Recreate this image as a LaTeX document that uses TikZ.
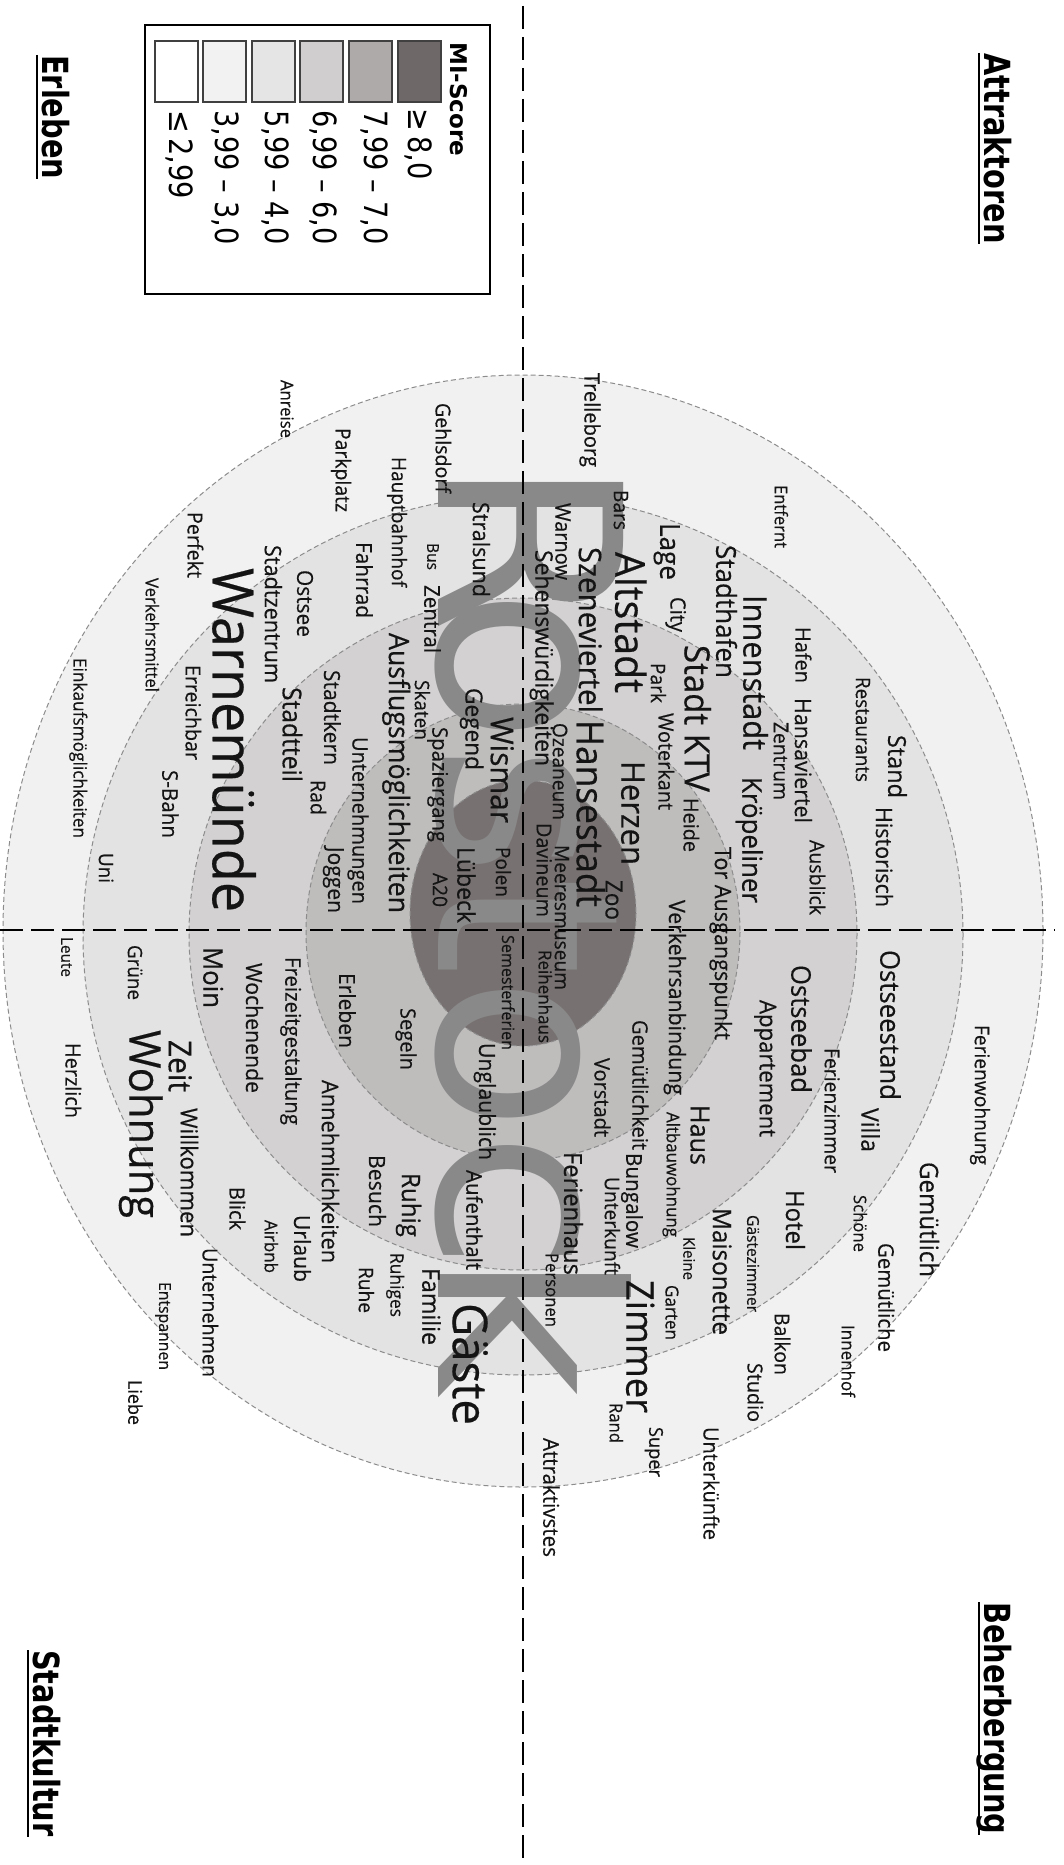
\documentclass[tikz,border=0pt]{standalone}
\usepackage{fontspec}
\usepackage{graphicx}
\newfontfamily\wordfont[FakeStretch=0.95,FakeBold=0.4]{Open Sans}
\newfontfamily\titlefont[FakeStretch=0.8]{DejaVu Sans}
\newfontfamily\legfont[FakeStretch=0.85]{DejaVu Sans}
\newfontfamily\logofont{DejaVu Sans}
\definecolor{ringA}{HTML}{F1F1F1}
\definecolor{ringB}{HTML}{E4E3E3}
\definecolor{ringC}{HTML}{D3D1D1}
\definecolor{ringD}{HTML}{BFBCBC}
\definecolor{ringE}{HTML}{787171}
\definecolor{ringline}{HTML}{8C8C8C}
\definecolor{logoc}{HTML}{898989}
\definecolor{wordc}{HTML}{141414}
\definecolor{legA}{HTML}{FFFFFF}
\definecolor{legB}{HTML}{F2F2F2}
\definecolor{legC}{HTML}{E6E5E5}
\definecolor{legD}{HTML}{D0CECE}
\definecolor{legE}{HTML}{AEAAAA}
\definecolor{legF}{HTML}{6F6868}
\newcommand\fw[2]{\resizebox{#1pt}{!}{\wordfont\vphantom{H}\smash{#2}}}
\begin{document}
\begin{tikzpicture}[x=1pt,y=-1pt,
  wc/.style={rotate=-90,anchor=west,inner sep=0pt,outer sep=0pt,text=wordc},
  ring/.style={draw=ringline,dash pattern=on 5pt off 3pt,line width=1pt},
  axisline/.style={draw=black,line width=2.2pt,dash pattern=on 23pt off 8pt},
  ttl/.style={rotate=-90,anchor=base west,inner sep=0pt,text=black,font=\titlefont\bfseries\fontsize{36}{36}\selectfont},
  uline/.style={line width=2.4pt},
  swatch/.style={draw=black!75,line width=1.2pt},
  leg/.style={rotate=-90,anchor=west,inner sep=0pt,font=\legfont\fontsize{32}{32}\selectfont}
]
\useasboundingbox (0,0) rectangle (1064,1865);
\fill[white] (0,0) rectangle (1064,1865);

% rings
\filldraw[fill=ringA,ring] (523,931) ellipse [x radius=520,y radius=556];
\filldraw[fill=ringB,ring] (523,935) ellipse [x radius=440,y radius=440];
\filldraw[fill=ringC,ring] (523,934) ellipse [x radius=334,y radius=336];
\filldraw[fill=ringD,ring] (523,932) ellipse [x radius=217,y radius=228];
\filldraw[fill=ringE,ring] (523,913) ellipse [x radius=113,y radius=133];

% logo
\node[rotate=-90,anchor=base west,inner sep=0pt,text=logoc,font=\logofont\fontsize{254}{254}\selectfont] (logo) at (438,457) {R\kern-45pt ostoc\kern-20pt k};

% words
\node[wc] (wAnreise) at (287,380) {\fw{58}{Anreise}};
\node[wc] (wParkplatz) at (343,428) {\fw{84}{Parkplatz}};
\node[wc] (wPerfekt) at (195,512) {\fw{66}{Perfekt}};
\node[wc] (wVerkehrsmittel) at (152,578) {\fw{114}{Verkehrsmittel}};
\node[wc] (wEinkauf) at (80,658) {\fw{180}{Einkaufsmöglichkeiten}};
\node[wc] (wStadtzentrum) at (273,545) {\fw{138}{Stadtzentrum}};
\node[wc] (wOstsee) at (305,570) {\fw{67}{Ostsee}};
\node[wc] (wWarnemuende) at (233,568) {\fw{344}{Warnemünde}};
\node[wc] (wErreichbar) at (193,665) {\fw{95}{Erreichbar}};
\node[wc] (wStadtkern) at (332,670) {\fw{95}{Stadtkern}};
\node[wc] (wStadtteil) at (292,687) {\fw{95}{Stadtteil}};
\node[wc] (wFahrrad) at (364,542) {\fw{76}{Fahrrad}};
\node[wc] (wTrelleborg) at (592,373) {\fw{94}{Trelleborg}};
\node[wc] (wGehlsdorf) at (443,403) {\fw{90}{Gehlsdorf}};
\node[wc] (wHauptbahnhof) at (399,457) {\fw{130}{Hauptbahnhof}};
\node[wc] (wBus) at (433,543) {\fw{27}{Bus}};
\node[wc] (wZentral) at (432,585) {\fw{68}{Zentral}};
\node[wc] (wStralsund) at (481,502) {\fw{95}{Stralsund}};
\node[wc] (wBars) at (621,490) {\fw{40}{Bars}};
\node[wc] (wWarnow) at (563,503) {\fw{77}{Warnow}};
\node[wc] (wSehens) at (544,550) {\fw{216}{Sehenswürdigkeiten}};
\node[wc] (wLage) at (670,523) {\fw{57}{Lage}};
\node[wc] (wCity) at (678,597) {\fw{35}{City}};
\node[wc] (wAltstadt) at (630,552) {\fw{141}{Altstadt}};
\node[wc] (wSzeneviertel) at (590,547) {\fw{166}{Szeneviertel}};
\node[wc] (wStadtKTV) at (697,645) {\fw{147}{Stadt KTV}};
\node[wc] (wPark) at (658,663) {\fw{40}{Park}};
\node[wc] (wWoterkant) at (666,713) {\fw{97}{Woterkant}};
\node[wc] (wAusflug) at (399,633) {\fw{280}{Ausflugsmöglichkeiten}};
\node[wc] (wSkaten) at (422,680) {\fw{60}{Skaten}};
\node[wc] (wGegend) at (474,688) {\fw{82}{Gegend}};
\node[wc] (wWismar) at (502,717) {\fw{106}{Wismar}};
\node[wc] (wHansestadt) at (590,720) {\fw{187}{Hansestadt}};
\node[wc] (wHerzen) at (633,761) {\fw{104}{Herzen}};
\node[wc] (wOzeaneum) at (560,723) {\fw{97}{Ozeaneum}};
\node[wc] (wSpaziergang) at (440,727) {\fw{115}{Spaziergang}};
\node[wc] (wUnternehmungen) at (360,737) {\fw{167}{Unternehmungen}};
\node[wc] (wEntfernt) at (781,485) {\fw{63}{Entfernt}};
\node[wc] (wStadthafen) at (726,545) {\fw{133}{Stadthafen}};
\node[wc] (wInnenstadt) at (755,595) {\fw{155}{Innenstadt}};
\node[wc] (wHafen) at (803,627) {\fw{56}{Hafen}};
\node[wc] (wHansaviertel) at (803,698) {\fw{125}{Hansaviertel}};
\node[wc] (wZentrum) at (781,722) {\fw{78}{Zentrum}};
\node[wc] (wRestaurants) at (863,677) {\fw{105}{Restaurants}};
\node[wc] (wStand) at (897,735) {\fw{63}{Stand}};
\node[wc] (wHistorisch) at (884,807) {\fw{100}{Historisch}};
\node[wc] (wAusblick) at (817,840) {\fw{75}{Ausblick}};
\node[wc] (wKroepeliner) at (752,777) {\fw{126}{Kröpeliner}};
\node[wc] (wTor) at (723,847) {\fw{193}{Tor Ausgangspunkt}};
\node[wc] (wOstseestand) at (890,950) {\fw{150}{Ostseestand}};
\node[wc] (wOstseebad) at (801,965) {\fw{128}{Ostseebad}};
\node[wc] (wAppartement) at (768,1000) {\fw{137}{Appartement}};
\node[wc] (wFerienzimmer) at (832,1048) {\fw{125}{Ferienzimmer}};
\node[wc] (wVilla) at (870,1108) {\fw{44}{Villa}};
\node[wc] (wFerienwohnung) at (982,1025) {\fw{140}{Ferienwohnung}};
\node[wc] (wHaus) at (700,1105) {\fw{60}{Haus}};
\node[wc] (wRad) at (318,780) {\fw{35}{Rad}};
\node[wc] (wJoggen) at (336,847) {\fw{66}{Joggen}};
\node[wc] (wSBahn) at (170,770) {\fw{68}{S-Bahn}};
\node[wc] (wUni) at (106,853) {\fw{30}{Uni}};
\node[wc] (wLeute) at (67,937) {\fw{40}{Leute}};
\node[wc] (wGruene) at (135,945) {\fw{55}{Grüne}};
\node[wc] (wMoin) at (213,947) {\fw{61}{Moin}};
\node[wc] (wWochenende) at (254,963) {\fw{130}{Wochenende}};
\node[wc] (wFreizeit) at (293,957) {\fw{168}{Freizeitgestaltung}};
\node[wc] (wErleben) at (347,973) {\fw{75}{Erleben}};
\node[wc] (wHerzlich) at (73,1043) {\fw{75}{Herzlich}};
\node[wc] (wZeit) at (180,1040) {\fw{52}{Zeit}};
\node[wc] (wWohnung) at (145,1030) {\fw{188}{Wohnung}};
\node[wc] (wWillkommen) at (189,1108) {\fw{129}{Willkommen}};
\node[wc] (wAnnehm) at (330,1080) {\fw{183}{Annehmlichkeiten}};
\node[wc] (wBlick) at (237,1187) {\fw{43}{Blick}};
\node[wc] (wAirbnb) at (271,1220) {\fw{53}{Airbnb}};
\node[wc] (wUrlaub) at (302,1215) {\fw{67}{Urlaub}};
\node[wc] (wUnternehmen) at (210,1248) {\fw{129}{Unternehmen}};
\node[wc] (wEntspannen) at (165,1282) {\fw{88}{Entspannen}};
\node[wc] (wLiebe) at (135,1380) {\fw{45}{Liebe}};
\node[wc] (wBesuch) at (377,1155) {\fw{72}{Besuch}};
\node[wc] (wRuhig) at (411,1173) {\fw{64}{Ruhig}};
\node[wc] (wRuhiges) at (397,1253) {\fw{64}{Ruhiges}};
\node[wc] (wRuhe) at (366,1267) {\fw{46}{Ruhe}};
\node[wc] (wFamilie) at (431,1268) {\fw{77}{Familie}};
\node[wc] (wAufenthalt) at (474,1170) {\fw{100}{Aufenthalt}};
\node[wc] (wUnglaublich) at (487,1043) {\fw{117}{Unglaublich}};
\node[wc] (wGaeste) at (470,1303) {\fw{122}{Gäste}};
\node[wc] (wPersonen) at (552,1253) {\fw{74}{Personen}};
\node[wc] (wFerienhaus) at (573,1152) {\fw{123}{Ferienhaus}};
\node[wc] (wUnterkunft) at (612,1177) {\fw{98}{Unterkunft}};
\node[wc] (wBungalow) at (634,1153) {\fw{95}{Bungalow}};
\node[wc] (wAltbau) at (673,1112) {\fw{125}{Altbauwohnung}};
\node[wc] (wKleine) at (689,1237) {\fw{43}{Kleine}};
\node[wc] (wGarten) at (672,1285) {\fw{55}{Garten}};
\node[wc] (wZimmer) at (640,1280) {\fw{133}{Zimmer}};
\node[wc] (wRand) at (616,1403) {\fw{40}{Rand}};
\node[wc] (wSuper) at (656,1427) {\fw{50}{Super}};
\node[wc] (wAttraktivstes) at (551,1438) {\fw{119}{Attraktivstes}};
\node[wc] (wUnterkuenfte) at (711,1427) {\fw{113}{Unterkünfte}};
\node[wc] (wGemuetlich) at (929,1162) {\fw{115}{Gemütlich}};
\node[wc] (wHotel) at (795,1190) {\fw{60}{Hotel}};
\node[wc] (wSchoene) at (860,1195) {\fw{57}{Schöne}};
\node[wc] (wGemuetliche) at (886,1243) {\fw{109}{Gemütliche}};
\node[wc] (wGaestezimmer) at (753,1215) {\fw{97}{Gästezimmer}};
\node[wc] (wMaisonette) at (722,1208) {\fw{127}{Maisonette}};
\node[wc] (wBalkon) at (782,1313) {\fw{62}{Balkon}};
\node[wc] (wInnenhof) at (848,1325) {\fw{72}{Innenhof}};
\node[wc] (wStudio) at (755,1363) {\fw{59}{Studio}};
\node[wc] (wHeide) at (691,798) {\fw{54}{Heide}};
\node[wc] (wZoo) at (614,880) {\fw{40}{Zoo}};
\node[wc] (wMeeresmuseum) at (562,845) {\fw{145}{Meeresmuseum}};
\node[wc] (wDavineum) at (544,823) {\fw{94}{Davineum}};
\node[wc] (wPolen) at (503,847) {\fw{50}{Polen}};
\node[wc] (wLuebeck) at (466,847) {\fw{76}{Lübeck}};
\node[wc] (wAzwanzig) at (440,873) {\fw{34}{A20}};
\node[wc] (wVerkehrsanb) at (677,900) {\fw{195}{Verkehrsanbindung}};
\node[wc] (wReihenhaus) at (545,950) {\fw{93}{Reihenhaus}};
\node[wc] (wSemesterferien) at (508,935) {\fw{115}{Semesterferien}};
\node[wc] (wGemuetlichkeit) at (640,1020) {\fw{130}{Gemütlichkeit}};
\node[wc] (wVorstadt) at (602,1058) {\fw{79}{Vorstadt}};
\node[wc] (wSegeln) at (408,1008) {\fw{62}{Segeln}};

% legend
\draw[line width=2pt] (145,25) rectangle (490,294);
\draw[swatch,fill=legA] (155,41) rectangle (198,102);
\draw[swatch,fill=legB] (203,41) rectangle (246,102);
\draw[swatch,fill=legC] (252,41) rectangle (295,102);
\draw[swatch,fill=legD] (300,41) rectangle (343,102);
\draw[swatch,fill=legE] (349,41) rectangle (392,102);
\draw[swatch,fill=legF] (398,41) rectangle (441,102);
\node[rotate=-90,anchor=west,inner sep=0pt,font=\logofont\bfseries\fontsize{23}{23}\selectfont] (legtitle) at (459,42) {MI-Score};
\node[leg] (legF) at (419,108) {≥\,8,0};
\node[leg] (legE) at (375,110) {7,99 – 7,0};
\node[leg] (legD) at (324,110) {6,99 – 6,0};
\node[leg] (legC) at (276,110) {5,99 – 4,0};
\node[leg] (legB) at (226,110) {3,99 – 3,0};
\node[leg] (legA) at (180,110) {≤\,2,99};

% titles
\node[ttl] (tAttr) at (984,53) {Attraktoren};
\node[ttl] (tErl) at (42,55) {Erleben};
\node[ttl] (tStk) at (33,1650) {Stadtkultur};
\node[ttl] (tBeh) at (984,1602) {Beherbergung};
\foreach \t in {tAttr,tErl,tStk,tBeh}
  \draw[uline] ([xshift=-5pt]\t.base west) -- ([xshift=-5pt]\t.base east);

% axes
\coordinate (vtop) at (523,6);
\coordinate (vbot) at (523,1865);
\coordinate (hleft) at (0,930);
\coordinate (hright) at (1055,930);
\draw[axisline] (vtop) -- (vbot);
\draw[axisline] (hleft) -- (hright);
\end{tikzpicture}
\end{document}
